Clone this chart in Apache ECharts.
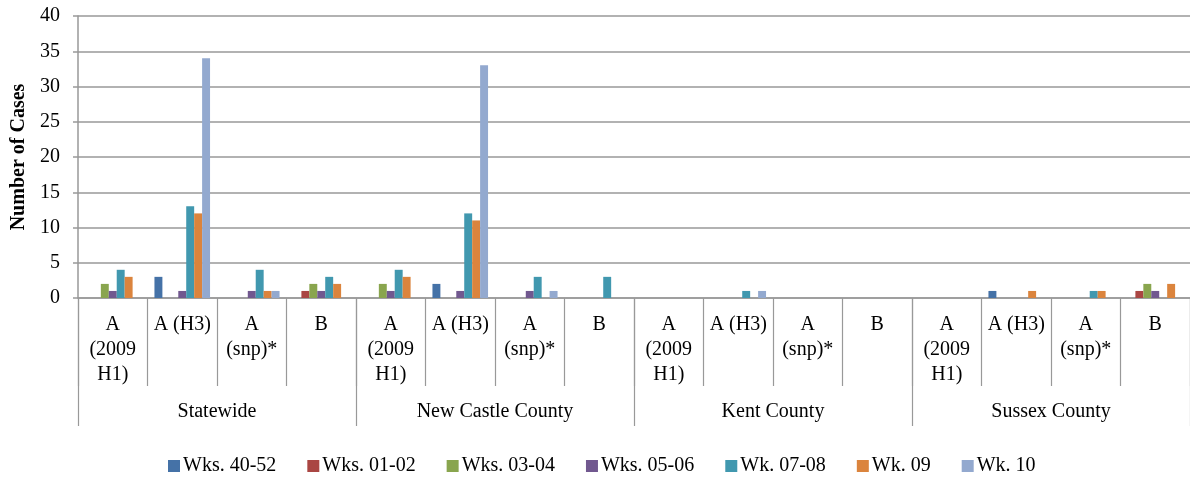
<!DOCTYPE html>
<html>
<head>
<meta charset="utf-8">
<script src="https://cdn.jsdelivr.net/npm/echarts@6/dist/echarts.min.js"></script>
<style>
html,body{margin:0;padding:0;background:#fff;overflow:hidden;}
#chart{width:1190px;height:485px;}
</style>
</head>
<body>
<div id="chart"></div>
<script>
const subCategories = ["A\n(2009\nH1)","A (H3)","A\n(snp)*","B","A\n(2009\nH1)","A (H3)","A\n(snp)*","B","A\n(2009\nH1)","A (H3)","A\n(snp)*","B","A\n(2009\nH1)","A (H3)","A\n(snp)*","B"];
const groups = ["Statewide","New Castle County","Kent County","Sussex County"];
const seriesNames = ["Wks. 40-52","Wks. 01-02","Wks. 03-04","Wks. 05-06","Wk. 07-08","Wk. 09","Wk. 10"];
const wks4052 = [0,3,0,0, 0,2,0,0, 0,0,0,0, 0,1,0,0];
const wks0102 = [0,0,0,1, 0,0,0,0, 0,0,0,0, 0,0,0,1];
const wks0304 = [2,0,0,2, 2,0,0,0, 0,0,0,0, 0,0,0,2];
const wks0506 = [1,1,1,1, 1,1,1,0, 0,0,0,0, 0,0,0,1];
const wk0708  = [4,13,4,3, 4,12,3,3, 0,1,0,0, 0,0,1,0];
const wk09    = [3,12,1,2, 3,11,0,0, 0,0,0,0, 0,1,1,2];
const wk10    = [0,34,1,0, 0,33,1,0, 0,1,0,0, 0,0,0,0];
const yTicks = {min:0, max:40, interval:5};

const seriesData = [wks4052, wks0102, wks0304, wks0506, wk0708, wk09, wk10];
const colors = ["#4572A7","#AA4643","#89A54E","#71588F","#4198AF","#DB843D","#93A9CF"];
const font = "'Liberation Serif','DejaVu Serif',serif";
const gray = "#999999";

const chart = echarts.init(document.getElementById('chart'));
chart.setOption({
  animation:false,
  color: colors,
  grid:{left:78, width:1120, top:16, bottom:187, containLabel:false},
  legend:{
    top:451, left:163, itemWidth:12, itemHeight:12, itemGap:31,
    icon:'rect',
    textStyle:{fontFamily:font, fontSize:20, color:'#000', padding:[0,0,0,-2]},
    data: seriesNames
  },
  xAxis:[
    {type:'category', data:subCategories, position:'bottom',
     axisLine:{lineStyle:{color:gray, width:1.5}},
     axisTick:{show:true, interval:0, length:88, lineStyle:{color:gray, width:1.2}},
     axisLabel:{interval:0, margin:14, fontFamily:font, fontSize:20, color:'#000', lineHeight:25}
    },
    {type:'category', data:groups, position:'bottom', gridIndex:0,
     axisLine:{show:false},
     axisTick:{show:true, interval:0, length:128, lineStyle:{color:gray, width:1.2}},
     axisLabel:{interval:0, margin:104, fontFamily:font, fontSize:20, color:'#000'}
    }
  ],
  yAxis:{
    type:'value', min:yTicks.min, max:yTicks.max, interval:yTicks.interval,
    name:'Number of Cases', nameLocation:'middle', nameGap:48,
    nameTextStyle:{fontFamily:font, fontSize:20, fontWeight:'bold', color:'#000'},
    axisLine:{show:true, lineStyle:{color:gray, width:1.5}},
    axisTick:{show:true, length:5, lineStyle:{color:gray, width:1.5}},
    axisLabel:{fontFamily:font, fontSize:20, color:'#000', margin:18},
    splitLine:{lineStyle:{color:gray, width:1.5}}
  },
  series: seriesNames.map((n,i)=>({
    name:n, type:'bar', xAxisIndex:0, data:seriesData[i],
    barGap:'0%', barCategoryGap:'20%'
  }))
});
</script>
</body>
</html>
